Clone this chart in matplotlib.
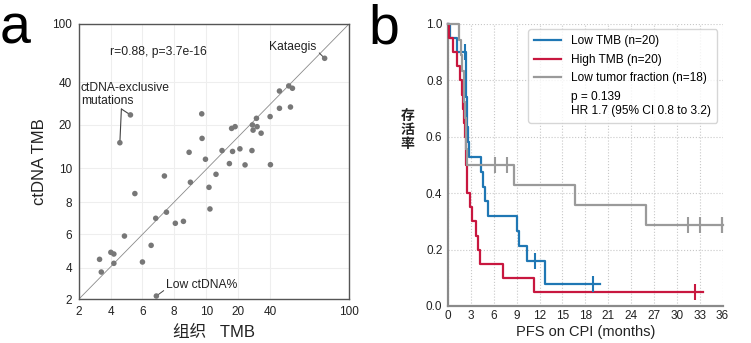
import numpy as np
import matplotlib
matplotlib.use('Agg')
import matplotlib.pyplot as plt
from matplotlib.lines import Line2D

plt.rcParams['font.family'] = ['Liberation Sans', 'Noto Sans CJK SC', 'DejaVu Sans']

# ---------------- Panel a data ----------------
tissue_tmb = [81.4, 54.0, 56.8, 46.9, 46.9, 55.3, 39.8, 31.3, 28.8, 31.7, 29.2, 34.2,
              17.9, 19.0, 9.71, 5.24, 4.57, 9.73, 8.93, 14.9, 18.2, 21.0, 28.5, 9.94,
              17.2, 24.2, 40.0, 13.0, 7.39, 9.01, 10.8, 5.52, 7.52, 11.1, 6.84, 8.08,
              8.58, 4.86, 6.55, 6.0, 4.0, 4.19, 3.29, 4.19, 3.40, 6.88]
ctdna_tmb = [64.7, 38.3, 37.2, 35.9, 27.8, 28.4, 23.9, 23.1, 20.0, 19.6, 18.8, 18.1,
             19.2, 19.6, 25.2, 24.7, 15.9, 16.9, 13.7, 14.1, 13.9, 14.5, 14.1, 12.1,
             11.1, 10.8, 10.85, 9.65, 9.55, 9.18, 8.88, 8.51, 7.38, 7.58, 7.0, 6.69,
             6.81, 5.9, 5.34, 4.34, 4.92, 4.82, 4.5, 4.26, 3.72, 2.19]
tmb_ticks = [2, 4, 6, 8, 10, 20, 40, 100]
tmb_tick_labels = ['2', '4', '6', '8', '10', '20', '40', '100']
# relative positions of ticks along each axis (axis uses an uneven tick spacing)
x_tick_frac = [0.0, 0.118, 0.235, 0.352, 0.472, 0.590, 0.709, 1.0]
y_tick_frac = [0.0, 0.114, 0.235, 0.352, 0.475, 0.633, 0.788, 1.0]

# ---------------- Panel b data ----------------
low_tmb_time = [0.3, 1.2, 2.2, 2.3, 2.35, 2.4, 2.5, 2.55, 2.65, 2.8, 4.3, 4.6, 4.9,
                5.3, 9.0, 9.25, 10.3, 11.4, 12.7, 19.0]
low_tmb_event = [1, 1, 0, 1, 1, 1, 1, 1, 1, 1, 1, 1, 1, 1, 1, 1, 1, 0, 1, 0]
high_tmb_time = [0.15, 0.6, 1.15, 1.6, 1.8, 2.0, 2.1, 2.2, 2.3, 2.35, 2.45, 2.55,
                 2.86, 3.2, 3.65, 3.95, 4.22, 7.15, 11.3, 32.4]
high_tmb_event = [1] * 19 + [0]
low_tf_time = [1.45, 1.7, 1.9, 2.05, 2.15, 2.25, 2.3, 2.4, 2.5, 6.2, 7.8, 8.6, 16.7,
               26.0, 31.5, 33.1, 35.9, 35.9]
low_tf_event = [1, 1, 1, 1, 1, 1, 1, 1, 1, 0, 0, 1, 1, 1, 0, 0, 0, 0]
last_followup = [19.9, 33.4, 36.0]
group_labels = ['Low TMB (n=20)', 'High TMB (n=20)', 'Low tumor fraction (n=18)']
group_colors = ['#1f77b4', '#c8173f', '#9a9a9a']
stats_label = 'p = 0.139\nHR 1.7 (95% CI 0.8 to 3.2)'
pfs_ticks = list(range(0, 37, 3))
surv_ticks = [0.0, 0.2, 0.4, 0.6, 0.8, 1.0]


def km(times, events):
    t = np.asarray(times, float)
    e = np.asarray(events, int)
    n = len(t)
    s = 1.0
    st, sv = [0.0], [1.0]
    for ut in np.unique(t):
        d = int(((t == ut) & (e == 1)).sum())
        c = int(((t == ut) & (e == 0)).sum())
        if d > 0:
            s *= (1 - d / n)
            st.append(ut)
            sv.append(s)
        n -= d + c
    return np.array(st), np.array(sv)


def surv_at(st, sv, x):
    idx = np.searchsorted(st, x, side='right') - 1
    return sv[idx]


W, H = 751, 343
fig = plt.figure(figsize=(W / 100, H / 100), dpi=100)

# ================= Panel a =================
axa = fig.add_axes([79 / W, 44 / H, 270 / W, 275 / H])


def make_scale(frac):
    def fwd(v):
        return np.interp(v, tmb_ticks, frac)

    def inv(p):
        return np.interp(p, frac, tmb_ticks)
    return fwd, inv


axa.set_xscale('function', functions=make_scale(x_tick_frac))
axa.set_yscale('function', functions=make_scale(y_tick_frac))
axa.set_xlim(2, 100)
axa.set_ylim(2, 100)
axa.set_xticks(tmb_ticks)
axa.set_xticklabels(tmb_tick_labels)
axa.set_yticks(tmb_ticks)
axa.set_yticklabels(tmb_tick_labels)
axa.minorticks_off()
axa.tick_params(length=0, pad=5, labelsize=8.5, colors='#222222')
axa.grid(True, color='#eeeeee', lw=0.8)
axa.set_axisbelow(True)
for sp in axa.spines.values():
    sp.set_color('#555555')
    sp.set_linewidth(1.0)

axa.plot([0, 1], [0, 1], transform=axa.transAxes, color='#8a8a8a', lw=0.6, zorder=2)
axa.scatter(tissue_tmb, ctdna_tmb, s=16, color='#777777', edgecolors='none', zorder=3)

fs_ann = 8.7
axa.text(0.115, 0.899, 'r=0.88, p=3.7e-16', transform=axa.transAxes, fontsize=fs_ann,
         va='center', ha='left', color='#222222')
axa.annotate('Kataegis', xy=(tissue_tmb[0], ctdna_tmb[0]), xycoords='data',
             xytext=(0.704, 0.918), textcoords='axes fraction', fontsize=fs_ann,
             va='center', ha='left', color='#222222',
             arrowprops=dict(arrowstyle='-', color='#444444', lw=0.7,
                             shrinkA=0, shrinkB=2,
                             relpos=(1.0, 0.2)))
axa.text(0.007, 0.745, 'ctDNA-exclusive\nmutations', transform=axa.transAxes,
         fontsize=fs_ann, va='center', ha='left', color='#222222', linespacing=1.1)
for i in (15, 16):
    axa.annotate('', xy=(tissue_tmb[i], ctdna_tmb[i]), xycoords='data',
                 xytext=(0.157, 0.691), textcoords='axes fraction',
                 arrowprops=dict(arrowstyle='-', color='#444444', lw=0.8,
                                 shrinkA=0, shrinkB=2))
axa.annotate('Low ctDNA%', xy=(tissue_tmb[45], ctdna_tmb[45]), xycoords='data',
             xytext=(0.324, 0.051), textcoords='axes fraction', fontsize=fs_ann,
             va='center', ha='left', color='#222222',
             arrowprops=dict(arrowstyle='-', color='#444444', lw=0.7,
                             shrinkA=0, shrinkB=2, relpos=(0.0, 0.2)))

axa.set_xlabel('组织   TMB', fontsize=12, labelpad=5, color='#222222')
axa.set_ylabel('ctDNA TMB', fontsize=12, labelpad=4, color='#222222')

fig.text(0.0, (H - 43) / H, 'a', fontsize=40, ha='left', va='baseline')

# ================= Panel b =================
axb = fig.add_axes([448 / W, 37 / H, 274.5 / W, 282 / H])
groups = [(low_tmb_time, low_tmb_event), (high_tmb_time, high_tmb_event),
          (low_tf_time, low_tf_event)]
handles = []
for (tt, ee), lab, col, endt in zip(groups, group_labels, group_colors, last_followup):
    st, sv = km(tt, ee)
    xs = np.append(st, endt)
    ys = np.append(sv, sv[-1])
    axb.step(xs, ys, where='post', color=col, lw=1.6, clip_on=False, zorder=3)
    ct = [t for t, e in zip(tt, ee) if e == 0]
    cy = [surv_at(st, sv, t) for t in ct]
    axb.plot(ct, cy, ls='none', marker='|', ms=11, mew=1.5, color=col,
             clip_on=False, zorder=4)
    handles.append(Line2D([], [], color=col, lw=1.6, label=lab))
handles.append(Line2D([], [], color='none', lw=0, label=stats_label))

axb.set_xlim(0, 36)
axb.set_ylim(0, 1)
axb.set_xticks(pfs_ticks)
axb.set_yticks(surv_ticks)
axb.set_yticklabels([f'{v:.1f}' for v in surv_ticks])
axb.tick_params(length=0, labelsize=8.5, colors='#222222')
axb.tick_params(axis='x', pad=3)
axb.tick_params(axis='y', pad=4)
axb.grid(True, ls=':', color='#c8c8c8', lw=0.8)
axb.set_axisbelow(True)
for side in ('top', 'right'):
    axb.spines[side].set_visible(False)
for side in ('left', 'bottom'):
    axb.spines[side].set_color('#8a8a8a')
    axb.spines[side].set_linewidth(1.6)

leg = axb.legend(handles=handles, loc='upper right', fontsize=8.6, frameon=True,
                 handlelength=2.25, handletextpad=0.85, borderaxespad=0.45,
                 borderpad=0.5, labelspacing=0.55)
leg.get_frame().set_edgecolor('#cccccc')
leg.get_frame().set_linewidth(1.0)
leg.set_zorder(5)

axb.set_xlabel('PFS on CPI (months)', fontsize=10.5, labelpad=2, color='#222222')
axb.text(-0.147, 0.624, '存\n活\n率', transform=axb.transAxes, fontsize=10,
         fontweight='bold', ha='center', va='center', linespacing=1.0,
         color='#222222')

fig.text(368 / W, (H - 43) / H, 'b', fontsize=40, ha='left', va='baseline')

fig.savefig('out.png', dpi=100)
